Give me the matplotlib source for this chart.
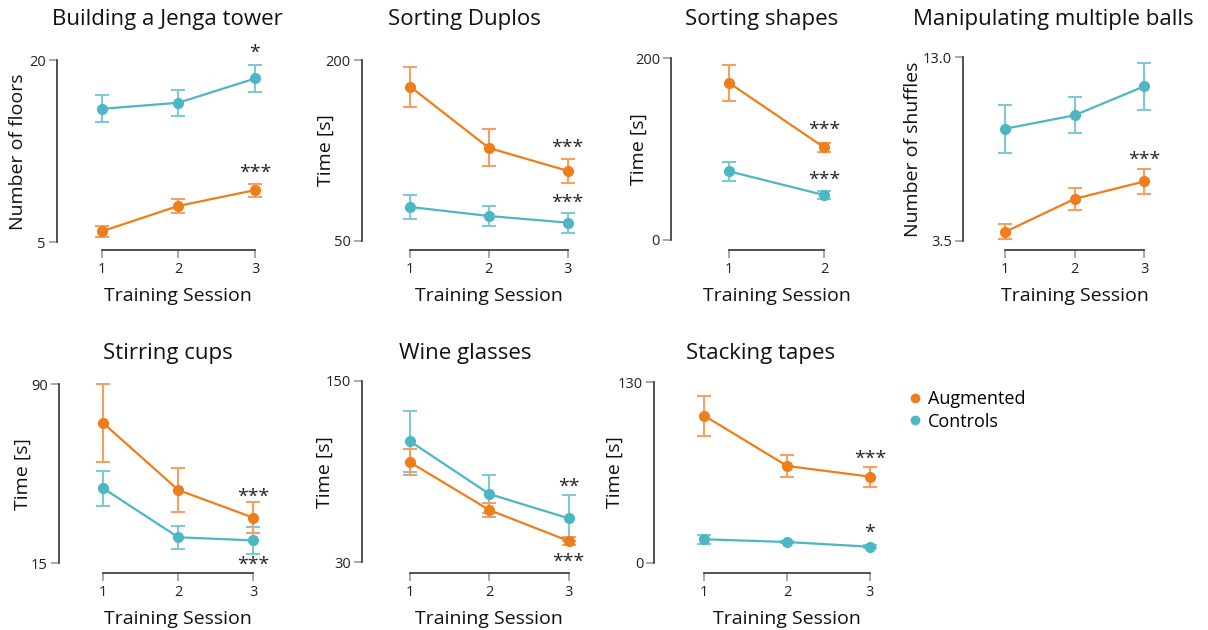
import matplotlib
matplotlib.use("Agg")
import matplotlib.pyplot as plt
from matplotlib.lines import Line2D

plt.rcParams['font.family'] = ['Open Sans', 'DejaVu Sans']

W, H = 1208, 630

ORANGE = '#f07d1b'
ORANGE_ERR = '#f4a064'
TEAL = '#4db6c4'
TEAL_ERR = '#80c9d3'

# ---- data ----
titles = ['Building a Jenga tower', 'Sorting Duplos', 'Sorting shapes',
          'Manipulating multiple balls', 'Stirring cups', 'Wine glasses',
          'Stacking tapes']
ylabels = ['Number of floors', 'Time [s]', 'Time [s]', 'Number of shuffles',
           'Time [s]', 'Time [s]', 'Time [s]']
yticks = [(5, 20), (50, 200), (0, 200), (3.5, 13.0), (15, 90), (30, 150), (0, 130)]
ytick_labels = [('5', '20'), ('50', '200'), ('0', '200'), ('3.5', '13.0'),
                ('15', '90'), ('30', '150'), ('0', '130')]

jenga_aug = [5.9, 8.0, 9.3]
jenga_aug_err = [0.48, 0.56, 0.53]
jenga_ctl = [16.0, 16.5, 18.5]
jenga_ctl_err = [1.1, 1.08, 1.1]

duplos_aug = [178, 127, 108]
duplos_aug_err = [16.6, 15.4, 9.8]
duplos_ctl = [78, 70.5, 65]
duplos_ctl_err = [9.8, 8.4, 8.3]

shapes_aug = [173, 102]
shapes_aug_err = [19.5, 5.2]
shapes_ctl = [75.6, 49.5]
shapes_ctl_err = [10.3, 4.8]

balls_aug = [3.96, 5.67, 6.57]
balls_aug_err = [0.38, 0.56, 0.65]
balls_ctl = [9.30, 10.0, 11.5]
balls_ctl_err = [1.24, 0.94, 1.23]

cups_aug = [73.7, 45.7, 34.1]
cups_aug_err = [16.3, 9.1, 6.4]
cups_ctl = [46.4, 25.9, 24.6]
cups_ctl_err = [7.2, 4.9, 5.8]

wine_aug = [96.2, 64.6, 44.1]
wine_aug_err = [8.5, 4.5, 2.8]
wine_ctl = [110.1, 75.2, 59.1]
wine_ctl_err = [20.2, 12.5, 15.2]

tapes_aug = [105.9, 69.7, 62.0]
tapes_aug_err = [14.5, 7.6, 7.2]
tapes_ctl = [16.9, 14.9, 11.5]
tapes_ctl_err = [3.4, 1.0, 1.0]

augmented = [jenga_aug, duplos_aug, shapes_aug, balls_aug, cups_aug, wine_aug, tapes_aug]
augmented_err = [jenga_aug_err, duplos_aug_err, shapes_aug_err, balls_aug_err,
                 cups_aug_err, wine_aug_err, tapes_aug_err]
controls = [jenga_ctl, duplos_ctl, shapes_ctl, balls_ctl, cups_ctl, wine_ctl, tapes_ctl]
controls_err = [jenga_ctl_err, duplos_ctl_err, shapes_ctl_err, balls_ctl_err,
                cups_ctl_err, wine_ctl_err, tapes_ctl_err]

# significance marks at the last session: (text, y value)
stars = [[('*', 20.85), ('***', 10.96)],
         [('***', 129.4), ('***', 83.8)],
         [('***', 124.7), ('***', 69.7)],
         [('***', 7.85)],
         [('***', 44.3), ('***', 15.67)],
         [('**', 81.8), ('***', 32.6)],
         [('***', 76.9), ('*', 23.6)]]

# ---- layout in pixels: spine x, x-axis y, first/last x tick, ymin/ymax tick y, title x ----
layout = [(57, 250, 101.7, 255, 242.3, 60.3, 167.5),
          (361.7, 250, 410, 567.7, 240.7, 60, 464),
          (671, 250, 729, 824, 240, 58.3, 762),
          (963.3, 250, 1005.3, 1144.3, 240.7, 57.3, 1053),
          (59, 572.5, 103.3, 253.3, 563.3, 384.3, 168),
          (362.3, 572.5, 410, 568.7, 562.3, 381, 465),
          (654.3, 572.5, 704.3, 870, 562.7, 382.3, 761)]
ylabel_x = [27, 335, 648, 922, 32, 334, 624]

fig = plt.figure(figsize=(W / 100, H / 100), dpi=100)

for i in range(7):
    sx, ax_y, xt1, xtn, ymin_px, ymax_px, tx = layout[i]
    n = len(augmented[i])
    sessions = list(range(1, n + 1))
    right = xtn + 20
    top = ymax_px - 12
    ax = fig.add_axes([sx / W, 1 - ax_y / H, (right - sx) / W, (ax_y - top) / H])

    ux = (xtn - xt1) / (n - 1)
    ax.set_xlim(1 - (xt1 - sx) / ux, n + (right - xtn) / ux)
    vmin, vmax = yticks[i]
    uy = (ymin_px - ymax_px) / (vmax - vmin)
    ax.set_ylim(vmin - (ax_y - ymin_px) / uy, vmax + (ymax_px - top) / uy)

    ax.errorbar(sessions, controls[i], yerr=controls_err[i], fmt='none',
                ecolor=TEAL_ERR, elinewidth=1.5, capsize=5, capthick=1.5)
    ax.errorbar(sessions, augmented[i], yerr=augmented_err[i], fmt='none',
                ecolor=ORANGE_ERR, elinewidth=1.5, capsize=5, capthick=1.5)
    ax.plot(sessions, controls[i], '-o', color=TEAL, lw=1.6, ms=7)
    ax.plot(sessions, augmented[i], '-o', color=ORANGE, lw=1.6, ms=7)

    for txt, yv in stars[i]:
        ax.annotate(txt, (n, yv), xytext=(0, -3), textcoords='offset pixels',
                    ha='center', va='center', fontsize=14, color='#222222')

    for s in ['top', 'right']:
        ax.spines[s].set_visible(False)
    for s in ['left', 'bottom']:
        ax.spines[s].set_color('#333333')
        ax.spines[s].set_linewidth(1.2)
    ax.spines['left'].set_bounds(vmin, vmax)
    ax.spines['bottom'].set_bounds(1, n)

    ax.set_xticks(sessions)
    ax.set_xticklabels([str(s) for s in sessions])
    ax.set_yticks([vmin, vmax])
    ax.set_yticklabels(ytick_labels[i])
    ax.tick_params(axis='both', color='#999999', length=6, width=1.2,
                   labelsize=10.5, labelcolor='#222222')
    ax.tick_params(axis='y', pad=2)
    ax.tick_params(axis='x', pad=3)
    ax.patch.set_visible(False)

    ax.set_xlabel('Training Session', fontsize=14, color='#111111')
    ax.xaxis.set_label_coords((xt1 + xtn) / 2 / W, 1 - (ax_y + 37) / H,
                              transform=fig.transFigure)
    ax.set_ylabel(ylabels[i], fontsize=14, color='#111111')
    ax.yaxis.set_label_coords(ylabel_x[i] / W, 1 - (ymin_px + ymax_px) / 2 / H,
                              transform=fig.transFigure)

    title_y = 20 if i < 4 else 353
    fig.text(tx / W, 1 - title_y / H, titles[i], ha='center', va='center',
             fontsize=16, color='#111111')

handles = [Line2D([], [], marker='o', ls='', color=ORANGE, ms=6, label='Augmented'),
           Line2D([], [], marker='o', ls='', color=TEAL, ms=6, label='Controls')]
fig.legend(handles=handles, loc='upper left', bbox_to_anchor=(901 / W, 1 - 381 / H),
           frameon=False, fontsize=13, handlelength=0.6, handletextpad=0.4,
           labelspacing=0.25, borderpad=0)

fig.savefig('out.png', dpi=100)
